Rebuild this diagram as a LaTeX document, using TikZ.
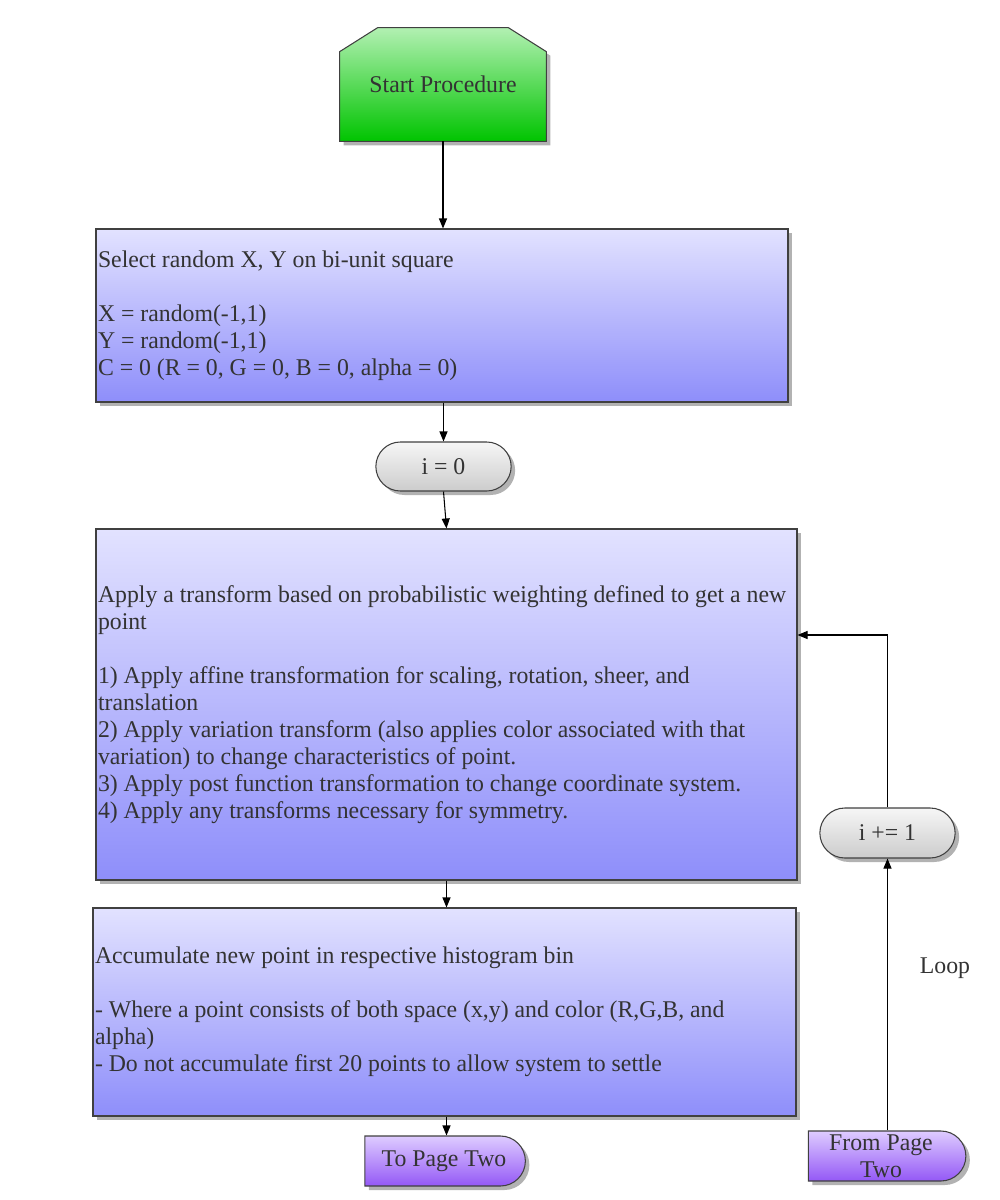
\documentclass[tikz,border=0pt]{standalone}
\usepackage{fontspec}
\setmainfont{Liberation Serif}[FakeStretch=0.99]
\usepackage{tikz}
\usetikzlibrary{positioning}
\usetikzlibrary{shapes.misc,shadows,backgrounds}
\usetikzlibrary{arrows.meta}

\newcommand{\pxu}{0.02cm}
\definecolor{edgegray}{RGB}{64,64,64}
\definecolor{textgray}{RGB}{51,51,51}
\definecolor{greentop}{RGB}{178,240,178}
\definecolor{greenbot}{RGB}{0,196,0}
\definecolor{bluetop}{RGB}{226,226,255}
\definecolor{bluebot}{RGB}{142,142,250}
\definecolor{graytop}{RGB}{246,246,246}
\definecolor{graybot}{RGB}{204,204,204}
\definecolor{purptop}{RGB}{222,204,255}
\definecolor{purpbot}{RGB}{148,88,246}

\tikzset{
  shade/.style={drop shadow={shadow xshift=4*\pxu, shadow yshift=-4*\pxu, fill=black!30, opacity=1}},
  base/.style={draw=edgegray, line width=0.6pt, text=textgray, shade, shading=axis,
    font=\fontsize{13.66}{15.4}\selectfont},
  procbox/.style={base, top color=bluetop, bottom color=bluebot, rectangle,
    inner xsep=2*\pxu, align=flush left},
  counter/.style={base, top color=graytop, bottom color=graybot, rounded rectangle,
    minimum width=147*\pxu, minimum height=49*\pxu},
  pagelink/.style={base, top color=purptop, bottom color=purpbot, rounded rectangle,
    rounded rectangle west arc=none, minimum width=164*\pxu, minimum height=50*\pxu,
    inner sep=1pt, align=center},
  flow/.style={draw=black, line width=0.6pt, -{Triangle[length=10*\pxu, width=8*\pxu]}}
}

\begin{document}
\begin{tikzpicture}[x=\pxu, y=-\pxu]
\useasboundingbox (0,0) rectangle (1000,1200);

% start block with cut corners
\node[text=textgray, font=\fontsize{13.66}{15.4}\selectfont,
  minimum width=206*\pxu, minimum height=113*\pxu] (start) at (443,84.5) {Start Procedure};
\begin{scope}[on background layer]
\path[draw=edgegray, line width=0.6pt, shade, top color=greentop, bottom color=greenbot]
  (start.south west) -- ([yshift=-24*\pxu]start.north west)
  -- ([xshift=38*\pxu]start.north west) -- ([xshift=-38*\pxu]start.north east)
  -- ([yshift=-24*\pxu]start.north east) -- (start.south east) -- cycle;
\end{scope}

\node[procbox, text width=688*\pxu, minimum height=173*\pxu] (select) at (442,315.5)
  {Select random X, Y on bi-unit square\\[15.4pt]
   X = random(-1,1)\\
   Y = random(-1,1)\\
   C = 0 (R = 0, G = 0, B = 0, alpha = 0)};

\node[counter] (init) at (443.5,466.5) {i = 0};

\node[procbox, text width=697*\pxu, minimum height=351*\pxu] (apply) at (446.5,704.5)
  {Apply a transform based on probabilistic weighting defined to get a new\\
   point\\[15.4pt]
   1) Apply affine transformation for scaling, rotation, sheer, and\\
   translation\\
   2) Apply variation transform (also applies color associated with that\\
   variation) to change characteristics of point.\\
   3) Apply post function transformation to change coordinate system.\\
   4) Apply any transforms necessary for symmetry.};

\node[procbox, text width=699*\pxu, minimum height=208*\pxu] (accum) at (444.5,1012)
  {Accumulate new point in respective histogram bin\\[15.4pt]
   - Where a point consists of both space (x,y) and color (R,G,B, and\\
   alpha)\\
   - Do not accumulate first 20 points to allow system to settle};

\node[pagelink] (topage) at (444,1161) {To Page Two};
\node[pagelink, minimum width=161*\pxu] (frompage) at (881,1156) {From Page\\Two};
\node[counter, minimum height=50*\pxu] (incr) at (887.5,833) {i += 1};

\node[text=textgray, font=\fontsize{13.66}{15.4}\selectfont] (looplbl) at (945,968) {Loop};

% connectors
\draw[flow] (start.south) -- (start.south |- select.north);
\draw[flow] (init.north |- select.south) -- (init.north);
\draw[flow] (init.south) -- (apply.north);
\draw[flow] (apply.south) -- (apply.south |- accum.north);
\draw[flow] (apply.south |- accum.south) -- (apply.south |- topage.north);
\draw[flow] (incr.south |- frompage.north) -- (incr.south);
\draw[flow] (incr.north) |- ([yshift=69.5*\pxu]apply.east);
\end{tikzpicture}
\end{document}
